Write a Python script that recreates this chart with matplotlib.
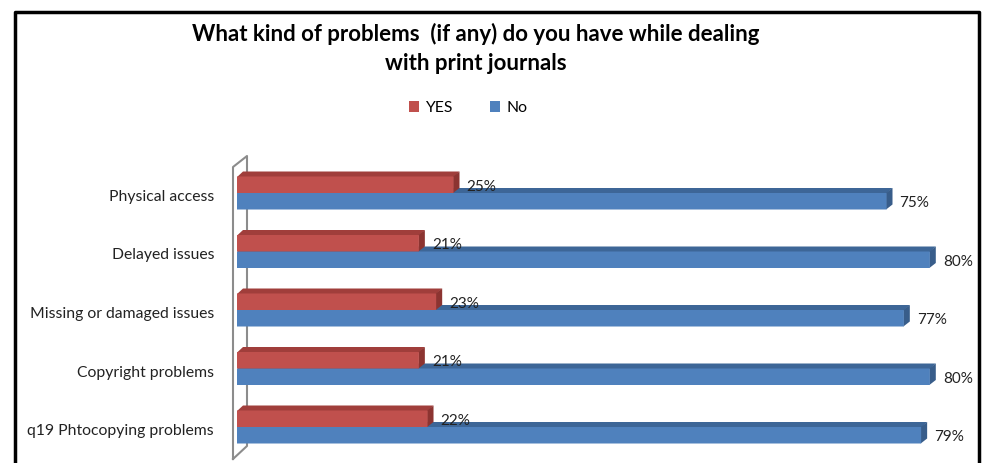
import numpy as np
import matplotlib
matplotlib.use("Agg")
from matplotlib import pyplot as plt
from matplotlib.patches import Polygon, Rectangle
from matplotlib.lines import Line2D

categories = ["Physical access", "Delayed issues", "Missing or damaged issues",
              "Copyright problems", "q19 Phtocopying problems"]
yes_vals = [25, 21, 23, 21, 22]
no_vals = [75, 80, 77, 80, 79]
series_names = ["YES", "No"]

FONT = ["Lato", "DejaVu Sans"]
plt.rcParams["font.family"] = FONT

W, H = 985, 463
fig = plt.figure(figsize=(W / 100, H / 100), dpi=100)

# axes placed in pixel terms: x 0 at 237px, 8.66 px per percent
ax_left, ax_right, ax_top = 237, 973, 150
ax = fig.add_axes([ax_left / W, 0, (ax_right - ax_left) / W, (H - ax_top) / H])
px_x = 8.66          # px per unit x
px_y = 58.5          # px per category
ax.set_xlim(0, (ax_right - ax_left) / px_x)
y0 = 193             # pixel row of first category centre
ax.set_ylim((H - y0) / px_y, (ax_top - y0) / px_y)
ax.axis("off")

bar_h = 16.5 / px_y
dx, dy = 6 / px_x, 5 / px_y

colors = {"YES": ("#C0504D", "#A03E3B", "#8C3431"),
          "No": ("#4F81BD", "#3D6697", "#385D8A")}

def bar3d(y_top, val, cols, z):
    front, top, side = cols
    # top and side faces first, overlapping the front a touch so no seam shows
    ax.add_patch(Polygon([(0, y_top + 0.01), (val, y_top + 0.01), (val + dx, y_top - dy),
                          (dx, y_top - dy)],
                         closed=True, facecolor=top, edgecolor="none", zorder=z - 0.5, snap=False))
    ax.add_patch(Polygon([(val - 0.05, y_top), (val - 0.05, y_top + bar_h),
                          (val + dx, y_top + bar_h - dy), (val + dx, y_top - dy)],
                         closed=True, facecolor=side, edgecolor="none", zorder=z - 0.5, snap=False))
    ax.add_patch(Rectangle((0, y_top), val, bar_h, facecolor=front,
                           edgecolor="none", zorder=z, snap=False))

ypos = np.arange(len(categories))
lbl_dy = 2 / px_y
for i, (yv, nv) in enumerate(zip(yes_vals, no_vals)):
    bar3d(ypos[i], nv, colors["No"], 2)
    bar3d(ypos[i] - bar_h, yv, colors["YES"], 4)
    ax.text(yv + 13 / px_x, ypos[i] - bar_h / 2 + lbl_dy, f"{yv}%", va="center", ha="left",
            fontsize=11, color="#222222", zorder=6)
    ax.text(nv + 13 / px_x, ypos[i] + bar_h / 2 + lbl_dy, f"{nv}%", va="center", ha="left",
            fontsize=11, color="#222222", zorder=6)
    ax.text(-23 / px_x, ypos[i] + 4 / px_y, categories[i], va="center", ha="right",
            fontsize=11.3, color="#222222", clip_on=False)

# back wall (3D side wall of the chart)
xf, xb = -4 / px_x, 10 / px_x
yft, ybt = (167 - y0) / px_y, (156 - y0) / px_y
yfb, ybb = (459 - y0) / px_y, (446 - y0) / px_y
wall_x = [xf, xf, xb, xb, xf]
wall_y = [yfb, yft, ybt, ybb, yfb]
ax.add_line(Line2D(wall_x, wall_y, color="#8C8C8C", lw=1.5, clip_on=False, zorder=1))

# title
fig.text(476 / W, 1 - 34 / H, "What kind of problems  (if any) do you have while dealing",
         ha="center", va="center", fontsize=16, fontweight="bold")
fig.text(476 / W, 1 - 64 / H, "with print journals",
         ha="center", va="center", fontsize=16, fontweight="bold")

# legend
handles = [Rectangle((0, 0), 1, 1, facecolor=colors[n][0]) for n in series_names]
fig.legend(handles, series_names, loc="center", bbox_to_anchor=(468 / W, 1 - 108 / H),
           ncol=2, frameon=False, fontsize=11.3, handlelength=0.65, handleheight=0.65,
           handletextpad=0.4, columnspacing=2.4)

# outer frame
fig.add_artist(Line2D([15 / W, 15 / W, 979 / W, 979 / W], [0, 1 - 12 / H, 1 - 12 / H, 0],
                      transform=fig.transFigure, color="black", lw=2.5))

fig.savefig("out.png", dpi=100)
